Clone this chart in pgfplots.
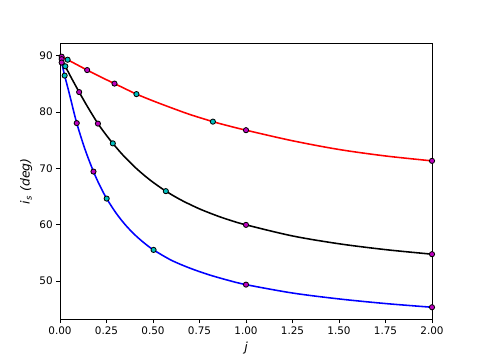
\documentclass[border=0pt]{standalone}
\usepackage{fontspec}
\setmainfont{DejaVu Sans}
\usepackage{pgfplots}
\pgfplotsset{compat=1.18}
\definecolor{mplm}{rgb}{0.75,0,0.75}
\definecolor{mplc}{rgb}{0,0.75,0.75}
\begin{document}
\begin{tikzpicture}
\path[use as bounding box] (-57.6pt,-37.9pt) rectangle (403.2pt,306.7pt);
\begin{axis}[
  at={(0,0)}, anchor=south west,
  scale only axis, width=357.12pt, height=265.3pt,
  xmin=0, xmax=2, ymin=43.15, ymax=92.25,
  xtick={0,0.25,0.5,0.75,1,1.25,1.5,1.75,2},
  ytick={50,60,70,80,90},
  xtick pos=left, ytick pos=left,
  tick align=outside, major tick length=3.5pt,
  every tick/.style={black, line width=0.8pt},
  axis line style={line width=0.8pt},
  x tick label style={/pgf/number format/.cd, fixed, fixed zerofill, precision=2, assume math mode=true},
  y tick label style={/pgf/number format/.cd, fixed, assume math mode=true},
  tick label style={font=\fontsize{10}{12}\selectfont},
  label style={font=\fontsize{12}{14}\selectfont},
  xlabel={\textit{j}},
  ylabel={\textit{i\textsubscript{s} (deg)}},
  clip=false,
]
% curves
\addplot[red, line width=1.5pt, smooth] coordinates {
(0.009,89.84) (0.041,89.3) (0.146,87.46) (0.22,86.22) (0.293,85.06) (0.35,84.15) (0.411,83.19)
(0.5,81.99) (0.6,80.74) (0.7,79.55) (0.822,78.3) (0.9,77.6) (1,76.78) (1.25,74.9) (1.5,73.35)
(1.75,72.2) (2,71.33)};
\addplot[black, line width=1.5pt, smooth] coordinates {
(0.009,89.4) (0.0286,88.13) (0.06,86.14) (0.103,83.55) (0.15,80.84) (0.204,77.95) (0.25,75.85)
(0.284,74.44) (0.32,73.03) (0.35,71.95) (0.4,70.3) (0.45,68.84) (0.5,67.53) (0.569,65.95)
(0.65,64.39) (0.75,62.8) (0.85,61.5) (0.925,60.67) (1,59.96) (1.25,57.99) (1.5,56.6)
(1.75,55.56) (2,54.75)};
\addplot[blue, line width=1.5pt, smooth] coordinates {
(0.009,88.8) (0.0251,86.48) (0.05,83.3) (0.09,78.04) (0.135,73.33) (0.18,69.43) (0.215,66.87)
(0.251,64.63) (0.3,62.12) (0.35,60.01) (0.4,58.27) (0.45,56.81) (0.503,55.51) (0.6,53.65)
(0.7,52.25) (0.8,51.1) (0.9,50.15) (1,49.34) (1.25,47.85) (1.5,46.8) (1.75,45.98) (2,45.32)};
% markers
\addplot[only marks, mark=*, mark size=2.5pt, mark options={fill=mplc, draw=black, line width=0.8pt}] coordinates {
(0.041,89.3) (0.411,83.19) (0.822,78.30)
(0.0286,88.13) (0.284,74.44) (0.569,65.95)
(0.0251,86.48) (0.251,64.63) (0.503,55.51)};
\addplot[only marks, mark=*, mark size=2.5pt, mark options={fill=mplm, draw=black, line width=0.8pt}] coordinates {
(0.009,89.84) (0.146,87.46) (0.293,85.06) (1,76.78) (2,71.33)
(0.009,89.4) (0.103,83.55) (0.204,77.95) (1,59.96) (2,54.75)
(0.009,88.8) (0.09,78.04) (0.18,69.43) (1,49.34) (2,45.32)};
\end{axis}
\end{tikzpicture}
\end{document}
